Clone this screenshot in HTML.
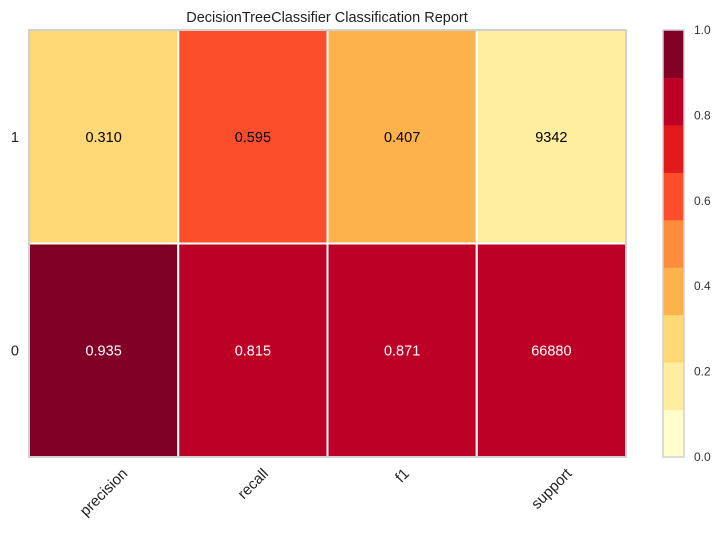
<!DOCTYPE html>
<html><head><meta charset="utf-8"><style>
body{margin:0;background:#fff;}
svg{display:block;font-family:"Liberation Sans","DejaVu Sans",sans-serif;}
</style></head><body>
<svg id="chart" width="722" height="534">
<text x="327" y="22" text-anchor="middle" font-size="14.5" fill="#222">DecisionTreeClassifier Classification Report</text>
<g id="cells"></g>
<g id="xlabels"></g>
<g id="ylabels"></g>
<rect x="29" y="30" width="597" height="427" fill="none" stroke="#d0d0d0" stroke-width="2"/>
<g id="cbar"></g>
</svg>
<script>
const metrics=["precision","recall","f1","support"];
const classes=["1","0"];
const row1Values=[0.310,0.595,0.407,9342];
const row0Values=[0.935,0.815,0.871,66880];
const cbarTicks=["0.0","0.2","0.4","0.6","0.8","1.0"];
const palette=["#ffffcc","#ffeda0","#fed976","#feb24c","#fd8d3c","#fc4e2a","#e31a1c","#bd0026","#800026"];
const NS="http://www.w3.org/2000/svg";
function mk(t,a,p){const e=document.createElementNS(NS,t);for(const k in a)e.setAttribute(k,a[k]);p.appendChild(e);return e;}
const L=29,R=626,T=30,B=457;
const cw=(R-L)/metrics.length, rh=(B-T)/classes.length;
function color(v){let i=Math.floor(v*palette.length);if(i>=palette.length)i=palette.length-1;if(i<0)i=0;return palette[i];}
const rows=[row1Values,row0Values];
const totalSupport=row1Values[3]+row0Values[3];
const cells=document.getElementById('cells');
rows.forEach((vals,r)=>{vals.forEach((v,c)=>{
  const norm=c===3? v/totalSupport : v;
  const rect=mk('rect',{x:L+c*cw,y:T+r*rh,width:cw,height:rh,fill:color(norm),stroke:'#fff','stroke-width':2},cells);
  
  
  const t=mk('text',{x:L+c*cw+cw/2,y:T+r*rh+rh/2+5,'text-anchor':'middle','font-size':14.5,fill:norm>0.7?'#fff':'#000'},cells);
  t.textContent=c===3?String(v):v.toFixed(3);
  
  
});});
const xl=document.getElementById('xlabels');
metrics.forEach((m,c)=>{
  const cx=L+c*cw+cw/2;
  const t=mk('text',{x:cx,y:0,'text-anchor':'middle','font-size':15,fill:'#222'},xl);
  t.textContent=m;
  const w=t.getComputedTextLength();
  const cy=466+(w*0.707+14*0.707)/2;
  t.setAttribute('y',cy+5);
  t.setAttribute('transform','rotate(-45 '+cx+' '+cy+')');
  
  
});
const yl=document.getElementById('ylabels');
classes.forEach((k,r)=>{
  const t=mk('text',{x:19,y:T+r*rh+rh/2+5,'text-anchor':'end','font-size':14.5,fill:'#222'},yl);
  t.textContent=k;
  
  
});
const cb=document.getElementById('cbar');
const CX=663,CW=21,CT=30,CB=457;
palette.forEach((p,i)=>{
  const h=(CB-CT)/palette.length;
  const r=mk('rect',{x:CX,y:CB-(i+1)*h,width:CW,height:h+0.5,fill:p},cb);
  
  
});
const fr=mk('rect',{x:CX,y:CT,width:CW,height:CB-CT,fill:'none',stroke:'#d0d0d0','stroke-width':1.5},cb);


cbarTicks.forEach(s=>{
  const v=parseFloat(s);
  const t=mk('text',{x:694,y:CB-v*(CB-CT)+4,'font-size':12,fill:'#333'},cb);
  t.textContent=s;
  
  
});
</script>
</body></html>
